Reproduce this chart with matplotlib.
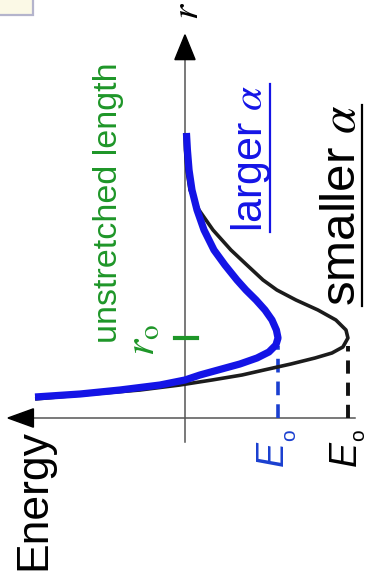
import matplotlib
matplotlib.use("Agg")
import matplotlib.pyplot as plt
from matplotlib.patches import Polygon, Rectangle

plt.rcParams["font.family"] = ["Liberation Sans", "DejaVu Sans"]
plt.rcParams["mathtext.fontset"] = "stix"

# separation r (units of r_o) and energy (units of the deeper well E_o)
r_blue = [3.5625, 3.35, 3.10, 2.85, 2.60, 2.35, 2.10, 1.9125, 1.725, 1.60,
          1.475, 1.35, 1.225, 1.10, 1.00, 0.9125, 0.825, 0.75, 0.675, 0.60,
          0.5375, 0.475, 0.4125, 0.35, 0.30, 0.2625]
E_blue = [-0.009, -0.015, -0.025, -0.043, -0.074, -0.117, -0.178, -0.245,
          -0.319, -0.374, -0.436, -0.491, -0.534, -0.561, -0.571, -0.558,
          -0.515, -0.442, -0.337, -0.203, -0.092, 0.0, 0.153, 0.399, 0.644,
          0.920]

r_black = [3.5625, 3.35, 3.10, 2.85, 2.60, 2.35, 2.10, 1.9125, 1.725, 1.60,
           1.475, 1.35, 1.225, 1.10, 1.00, 0.8875, 0.8125, 0.75, 0.675, 0.60,
           0.5375, 0.475, 0.4125, 0.35, 0.2875, 0.2375]
E_black = [0.0, -0.003, -0.012, -0.031, -0.086, -0.172, -0.282, -0.380,
           -0.479, -0.564, -0.681, -0.816, -0.926, -0.988, -1.0, -0.969,
           -0.902, -0.798, -0.650, -0.485, -0.350, -0.166, 0.031, 0.276,
           0.644, 0.920]

r0 = 1.0
E0_blue = -0.571
E0_black = -1.0

blue = "#1414e6"
green = "#1e9628"
dash_blue = "#1a3fd0"

fig = plt.figure(figsize=(3.67, 5.77), dpi=100)
ax = fig.add_axes([0, 0, 1, 1])
ax.set_xlim(1.135, -1.117)
ax.set_ylim(-1.9875, 5.225)
ax.axis("off")

# axes with arrow heads
ax.plot([0.95, -1.043], [0, 0], color="#555555", lw=1.1, zorder=1)
ax.plot([0, 0], [-0.3, 4.5], color="#555555", lw=1.1, zorder=1)
ax.add_patch(Polygon([[1.086, 0], [0.93, 0.115], [0.93, -0.115]],
                     closed=True, color="black", zorder=2))
ax.add_patch(Polygon([[0, 4.79], [0.062, 4.48], [-0.062, 4.48]],
                     closed=True, color="black", zorder=2))

# potential curves
ax.plot(E_black, r_black, color="#1c1c1c", lw=2.6, solid_capstyle="butt",
        solid_joinstyle="round", zorder=3)
ax.plot(E_blue, r_blue, color=blue, lw=5.2, solid_capstyle="butt",
        solid_joinstyle="round", zorder=4)

# well depths
ax.plot([E0_blue, E0_blue], [0.0, 0.9], color=dash_blue, lw=2.6,
        dashes=(3.8, 2.5), zorder=2)
ax.plot([E0_black, E0_black], [0.0, 0.9], color="#111111", lw=2.8,
        dashes=(3.4, 2.3), zorder=2)

# r_o marker
ax.plot([0.061, -0.074], [r0, r0], color=green, lw=3.0, zorder=2)

rot = dict(rotation=90, rotation_mode="anchor", ha="left", va="baseline")
ax.text(0.859, -1.9, "Energy", fontsize=32, color="black", **rot)
ax.text(0.417, 0.94, "unstretched length", fontsize=24.5, color=green, **rot)
ax.text(0.190, 0.78, r"$r_{\rm o}$", fontsize=30, color=green, **rot)
ax.text(-0.08, 4.98, r"$r$", fontsize=28, color="black", **rot)

# E_o labels: italic E with a small subscript o
for x_E, x_o, col in [(-0.601, -0.675, dash_blue), (-1.050, -1.100, "black")]:
    ax.text(x_E, -0.6, "E", fontsize=27, fontstyle="italic", color=col, **rot)
    ax.text(x_o, -0.29, "o", fontsize=15, color=col, **rot)

t_large = ax.text(-0.472, 2.33, r"larger $\alpha$", fontsize=31, color=blue,
                  **rot)
t_small = ax.text(-1.043, 1.40, r"smaller $\alpha$", fontsize=35.5,
                  color="black", **rot)

# underline the two labels along their length
fig.canvas.draw()
inv = ax.transData.inverted()
for t, x_line, col in [(t_large, -0.521, blue), (t_small, -1.088, "black")]:
    bb = t.get_window_extent()
    y0 = inv.transform((bb.x0, bb.y0))[1]
    y1 = inv.transform((bb.x1, bb.y1))[1]
    ax.plot([x_line, x_line], [y0, y1], color=col, lw=1.6, zorder=2)

# corner box
fig.patches.append(Rectangle((-0.02, 1 - 15 / 577), 0.02 + 33 / 367, 0.05,
                             transform=fig.transFigure, facecolor="#fbf9e6",
                             edgecolor="#b4b4cc", lw=1.6))

fig.savefig("out.png", dpi=100)
